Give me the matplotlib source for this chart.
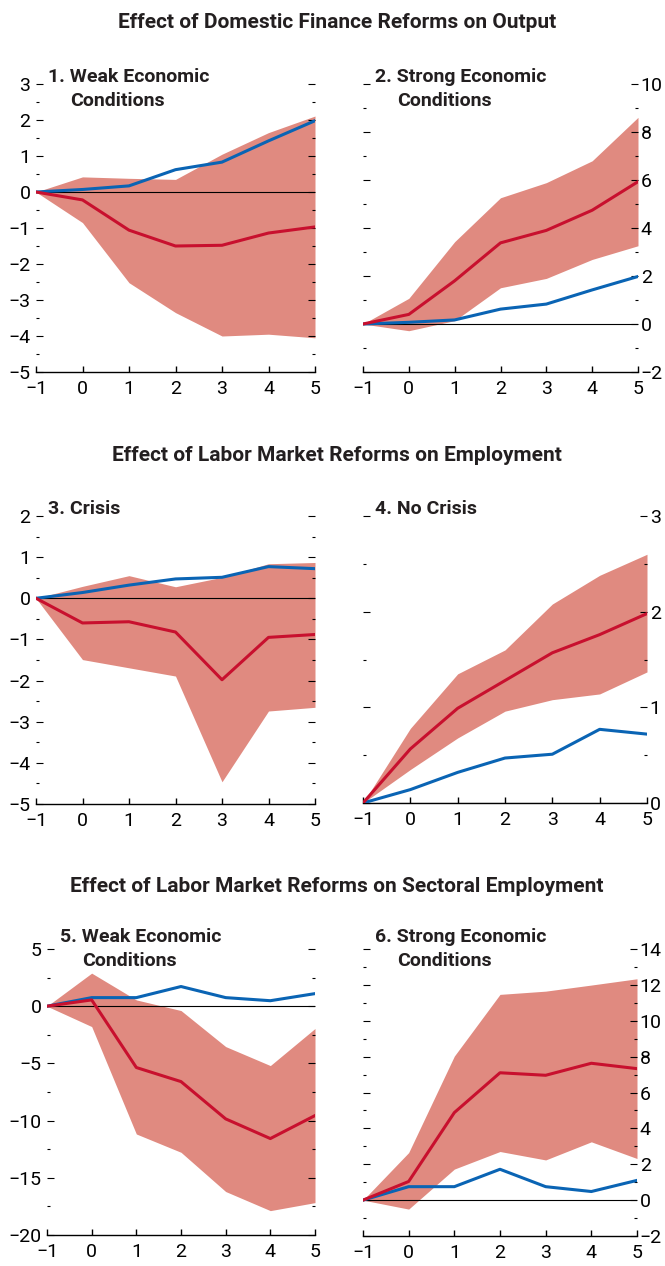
import numpy as np
import matplotlib
matplotlib.use("Agg")
import matplotlib.pyplot as plt
from matplotlib.ticker import MultipleLocator

plt.rcParams['font.family'] = ['Liberation Sans Narrow', 'Roboto', 'DejaVu Sans']

horizon = [-1, 0, 1, 2, 3, 4, 5]

# panel 1 / 2 : domestic finance reforms, output
p1_avg = [0, 0.07, 0.17, 0.62, 0.83, 1.42, 1.98]
p1_mid = [0, -0.22, -1.06, -1.50, -1.48, -1.14, -0.97]
p1_up = [0, 0.42, 0.38, 0.35, 1.05, 1.65, 2.11]
p1_lo = [0, -0.85, -2.52, -3.35, -4.00, -3.95, -4.05]

p2_mid = [0, 0.40, 1.80, 3.38, 3.90, 4.74, 5.93]
p2_up = [0, 1.07, 3.43, 5.26, 5.89, 6.80, 8.61]
p2_lo = [0, -0.28, 0.14, 1.51, 1.90, 2.69, 3.26]

# panel 3 / 4 : labor market reforms, employment
p3_avg = [0, 0.14, 0.32, 0.47, 0.51, 0.77, 0.72]
p3_mid = [0, -0.60, -0.57, -0.82, -1.98, -0.95, -0.88]
p3_up = [0, 0.29, 0.55, 0.28, 0.51, 0.84, 0.87]
p3_lo = [0, -1.49, -1.69, -1.89, -4.46, -2.74, -2.65]

p4_mid = [0, 0.565, 0.99, 1.28, 1.57, 1.76, 1.98]
p4_up = [0, 0.78, 1.35, 1.60, 2.08, 2.38, 2.60]
p4_lo = [0, 0.35, 0.68, 0.96, 1.08, 1.14, 1.37]

# panel 5 / 6 : labor market reforms, sectoral employment
p5_avg = [0, 0.75, 0.75, 1.72, 0.75, 0.48, 1.10]
p5_mid = [0, 0.55, -5.36, -6.59, -9.85, -11.57, -9.56]
p5_up = [0, 2.89, 0.55, -0.38, -3.53, -5.19, -1.95]
p5_lo = [0, -1.78, -11.17, -12.77, -16.20, -17.87, -17.17]

p6_mid = [0, 1.04, 4.88, 7.10, 6.96, 7.63, 7.33]
p6_up = [0, 2.65, 8.03, 11.47, 11.65, 11.99, 12.34]
p6_lo = [0, -0.50, 1.73, 2.71, 2.24, 3.25, 2.32]

W, H = 665, 1266
fig = plt.figure(figsize=(W / 100, H / 100), dpi=100)

band_col = '#e08a80'
red_col = '#c8102e'
blue_col = '#0a64b4'


def make_panel(box, mid, up, lo, avg, ylim, major, minor, side, title, tpos):
    # box is (left, top, right, bottom) in pixels
    l, t, r, b = box
    ax = fig.add_axes([l / W, 1 - b / H, (r - l) / W, (b - t) / H])
    ax.fill_between(horizon, lo, up, color=band_col, lw=0, zorder=1)
    ax.axhline(0, color='black', lw=0.8, zorder=2)
    ax.plot(horizon, avg, color=blue_col, lw=2.2, zorder=3)
    ax.plot(horizon, mid, color=red_col, lw=2.2, zorder=4)
    ax.set_xlim(-1, 5)
    ax.set_ylim(*ylim)
    ax.xaxis.set_major_locator(MultipleLocator(1))
    ax.yaxis.set_major_locator(MultipleLocator(major))
    ax.yaxis.set_minor_locator(MultipleLocator(minor))
    for s in ['top', 'left', 'right']:
        ax.spines[s].set_visible(False)
    ax.spines['bottom'].set_linewidth(1.0)
    ax.tick_params(axis='x', direction='in', length=4, width=1, labelsize=14, pad=6)
    ax.tick_params(axis='y', which='both', direction='in', left=True, right=True,
                   width=0.8, labelsize=14)
    ax.tick_params(axis='y', which='major', length=5)
    ax.tick_params(axis='y', which='minor', length=2.5)
    if side == 'left':
        ax.tick_params(axis='y', labelleft=True, labelright=False, pad=4)
    else:
        ax.tick_params(axis='y', labelleft=False, labelright=True, pad=2)
    ax.xaxis.set_major_formatter(matplotlib.ticker.FuncFormatter(
        lambda v, p: str(int(v)).replace('-', '\u2212')))
    ax.yaxis.set_major_formatter(matplotlib.ticker.FuncFormatter(
        lambda v, p: str(int(round(v))).replace('-', '\u2212')))
    lines = title.split('\n')
    for i, txt in enumerate(lines):
        x, y = tpos[i]
        fig.text(x / W, 1 - y / H, txt, fontsize=14, fontweight='bold',
                 ha='left', va='top', color='#231f20')
    return ax


make_panel((36, 84, 315, 372), p1_mid, p1_up, p1_lo, p1_avg, (-5, 3), 1, 0.5,
           'left', '1. Weak Economic\nConditions', [(48, 68), (70, 92)])
make_panel((363, 84, 638, 372), p2_mid, p2_up, p2_lo, p1_avg, (-2, 10), 2, 1,
           'right', '2. Strong Economic\nConditions', [(375, 68), (397, 92)])
make_panel((36, 516, 315, 804), p3_mid, p3_up, p3_lo, p3_avg, (-5, 2), 1, 0.5,
           'left', '3. Crisis', [(48, 500)])
make_panel((363, 516, 647, 803), p4_mid, p4_up, p4_lo, p3_avg, (0, 3), 1, 0.5,
           'right', '4. No Crisis', [(375, 500)])
make_panel((47, 949, 315, 1235), p5_mid, p5_up, p5_lo, p5_avg, (-20, 5), 5, 2.5,
           'left', '5. Weak Economic\nConditions', [(60, 928), (82, 952)])
make_panel((363, 949, 637, 1236), p6_mid, p6_up, p6_lo, p5_avg, (-2, 14), 2, 1,
           'right', '6. Strong Economic\nConditions', [(375, 928), (397, 952)])

heads = ['Effect of Domestic Finance Reforms on Output',
         'Effect of Labor Market Reforms on Employment',
         'Effect of Labor Market Reforms on Sectoral Employment']
for txt, y in zip(heads, [22, 456, 887]):
    fig.text(337 / W, 1 - y / H, txt, fontsize=15, fontweight='bold',
             ha='center', va='center', color='#231f20')

fig.savefig('out.png', dpi=100)
